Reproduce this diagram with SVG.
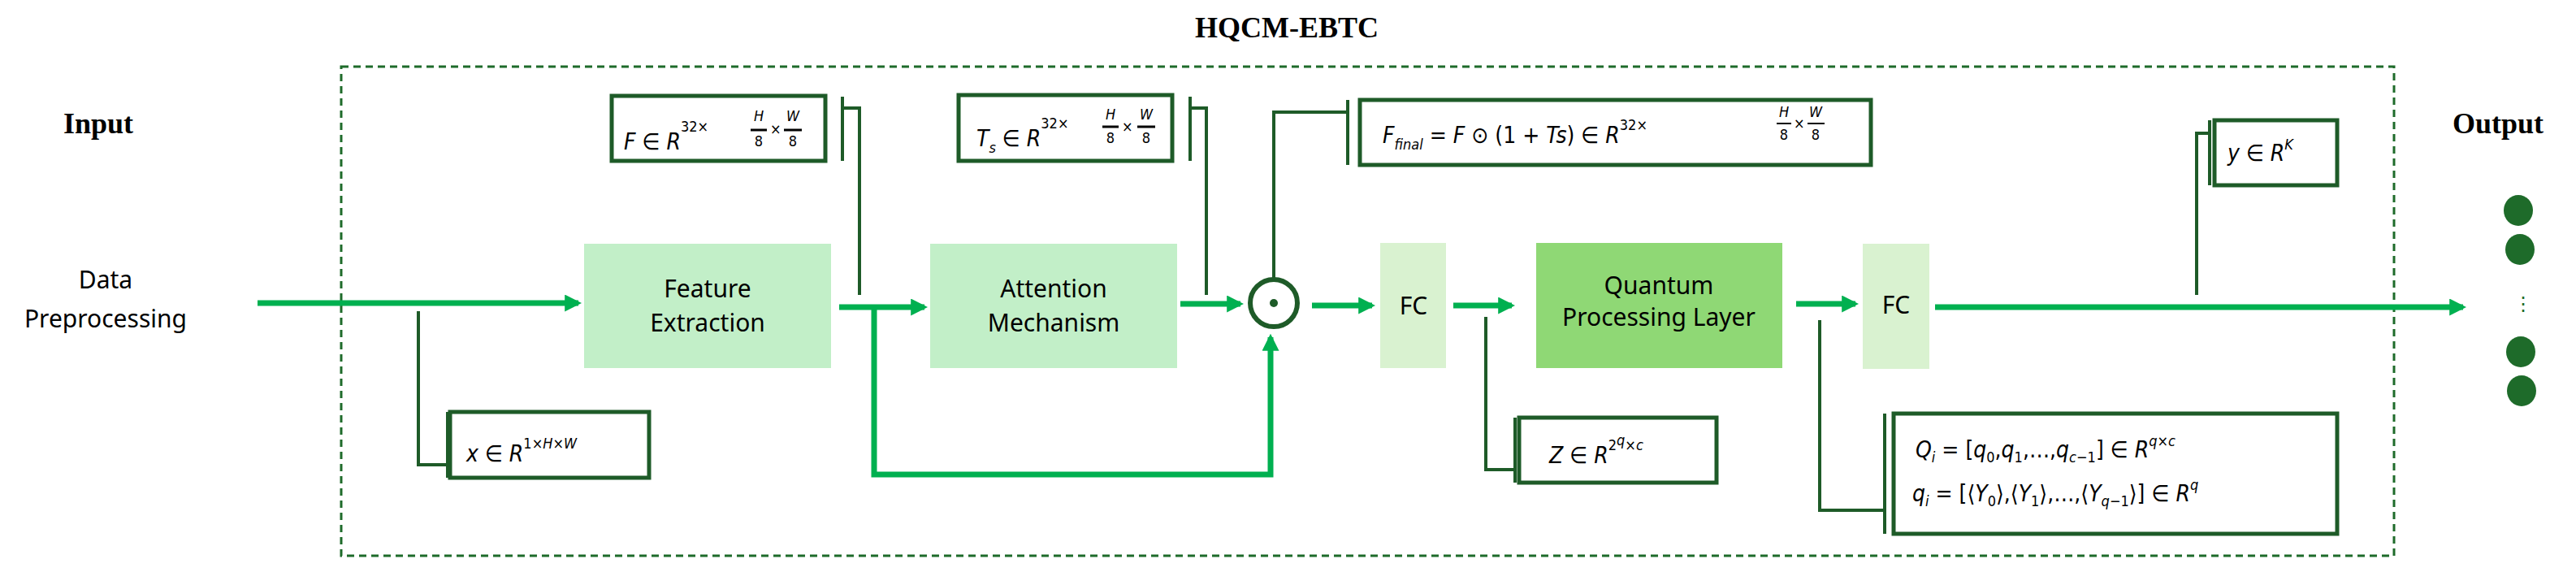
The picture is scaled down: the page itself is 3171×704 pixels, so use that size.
<svg xmlns="http://www.w3.org/2000/svg" width="3171" height="704" viewBox="0 0 3171 704">
<style>
.t{font-family:"Noto Sans","DejaVu Sans",sans-serif;font-size:30px;fill:#000;text-anchor:middle}
.s{font-family:"Liberation Serif",serif;font-weight:bold;font-size:36px;fill:#000;text-anchor:middle}
.m{font-family:"DejaVu Sans Condensed","DejaVu Sans",sans-serif;font-size:28px;fill:#000}
.i{font-style:italic}
.sup{font-size:18px}
.lb{fill:#fff;stroke:#1e5b28;stroke-width:5}
.c{fill:none;stroke:#1e5b28;stroke-width:4}
.a{fill:none;stroke:#00b050;stroke-width:7}
</style>
<defs>
<marker id="ah" viewBox="0 0 10 10" refX="8" refY="5" markerWidth="3" markerHeight="3" orient="auto" markerUnits="strokeWidth"><path d="M0,0L10,5L0,10z" fill="#00b050"/></marker>
</defs>
<text class="s" x="1584" y="46">HQCM-EBTC</text>
<rect x="420" y="82" width="2527" height="602" fill="none" stroke="#1e6b2a" stroke-width="3" stroke-dasharray="9,6"/>
<text class="s" x="121" y="164">Input</text>
<text class="s" x="3075" y="164">Output</text>
<g id="data"><text class="t" x="130" y="355">Data</text><text class="t" x="130" y="403">Preprocessing</text></g>
<g id="fe"><rect x="719" y="300" width="304" height="153" fill="#c2efc8"/><text class="t" x="871" y="366">Feature</text><text class="t" x="871" y="408">Extraction</text></g>
<g id="am"><rect x="1145" y="300" width="304" height="153" fill="#c2efc8"/><text class="t" x="1297" y="366">Attention</text><text class="t" x="1297" y="408">Mechanism</text></g>
<g id="odot"><circle cx="1568" cy="373" r="29" fill="#fff" stroke="#1e5b28" stroke-width="6"/><circle cx="1568" cy="373" r="5" fill="#1e5b28"/></g>
<g id="fc1"><rect x="1699" y="299" width="81" height="154" fill="#d9f2d0"/><text class="t" x="1740" y="387">FC</text></g>
<g id="qpl"><rect x="1891" y="299" width="303" height="154" fill="#8fd875"/><text class="t" x="2042" y="362">Quantum</text><text class="t" x="2042" y="401">Processing Layer</text></g>
<g id="fc2"><rect x="2293" y="300" width="82" height="154" fill="#d9f2d0"/><text class="t" x="2334" y="386">FC</text></g>
<g id="lblF"><rect class="lb" x="753" y="118" width="263" height="80"/>
<text class="m" x="768" y="184"><tspan class="i">F</tspan> ∈ <tspan class="i">R</tspan><tspan class="sup" dy="-22">32×</tspan></text>
<text class="m sup i" x="934" y="149" text-anchor="middle">H</text><line x1="924" y1="160" x2="944" y2="160" stroke="#000" stroke-width="3"/><text class="m sup" x="934" y="180" text-anchor="middle">8</text>
<text class="m sup" x="948" y="165">×</text>
<text class="m sup i" x="976" y="149" text-anchor="middle">W</text><line x1="965" y1="160" x2="987" y2="160" stroke="#000" stroke-width="3"/><text class="m sup" x="976" y="180" text-anchor="middle">8</text></g>
<g id="lblTs"><rect class="lb" x="1180" y="117" width="263" height="81"/>
<text class="m" x="1202" y="180"><tspan class="i">T</tspan><tspan class="sup i" dy="8">s</tspan><tspan dy="-8"> ∈ </tspan><tspan class="i">R</tspan><tspan class="sup" dy="-22">32×</tspan></text>
<text class="m sup i" x="1367" y="147" text-anchor="middle">H</text><line x1="1357" y1="156" x2="1377" y2="156" stroke="#000" stroke-width="3"/><text class="m sup" x="1367" y="176" text-anchor="middle">8</text>
<text class="m sup" x="1381" y="162">×</text>
<text class="m sup i" x="1411" y="147" text-anchor="middle">W</text><line x1="1400" y1="156" x2="1422" y2="156" stroke="#000" stroke-width="3"/><text class="m sup" x="1411" y="176" text-anchor="middle">8</text></g>
<g id="lblX"><rect class="lb" x="554" y="507" width="245" height="81"/>
<text class="m" x="574" y="568"><tspan class="i">x</tspan> ∈ <tspan class="i">R</tspan><tspan class="sup" dy="-16">1×</tspan><tspan class="sup i">H</tspan><tspan class="sup">×</tspan><tspan class="sup i">W</tspan></text></g>
<g id="lblFf"><rect class="lb" x="1674" y="123" width="629" height="80"/>
<text class="m" x="1702" y="176"><tspan class="i">F</tspan><tspan class="sup i" dy="8">final</tspan><tspan dy="-8"> = </tspan><tspan class="i">F</tspan> ⊙ (1 + <tspan class="i">Ts</tspan>) ∈ <tspan class="i">R</tspan><tspan class="sup" dy="-16">32×</tspan></text>
<text class="m sup i" x="2196" y="144" text-anchor="middle">H</text><line x1="2187" y1="152" x2="2205" y2="152" stroke="#000" stroke-width="2"/><text class="m sup" x="2196" y="172" text-anchor="middle">8</text>
<text class="m sup" x="2208" y="158">×</text>
<text class="m sup i" x="2235" y="144" text-anchor="middle">W</text><line x1="2225" y1="152" x2="2246" y2="152" stroke="#000" stroke-width="2"/><text class="m sup" x="2235" y="172" text-anchor="middle">8</text></g>
<g id="lblY"><rect class="lb" x="2726" y="148" width="151" height="80"/>
<text class="m" x="2742" y="198"><tspan class="i">y</tspan> ∈ <tspan class="i">R</tspan><tspan class="sup i" dy="-14">K</tspan></text></g>
<g id="lblZ"><rect class="lb" x="1870" y="514" width="243" height="80"/>
<text class="m" x="1907" y="570"><tspan class="i">Z</tspan> ∈ <tspan class="i">R</tspan><tspan class="sup" dy="-16">2</tspan><tspan class="sup i" font-size="13" dy="-6">q</tspan><tspan class="sup" dy="6">×</tspan><tspan class="sup i">c</tspan></text></g>
<g id="lblQ"><rect class="lb" x="2331" y="509" width="546" height="148"/>
<text class="m" x="2358" y="563"><tspan class="i">Q</tspan><tspan class="sup i" dy="6">i</tspan><tspan dy="-6">  =  [</tspan><tspan class="i">q</tspan><tspan class="sup" dy="6">0</tspan><tspan dy="-6">,</tspan><tspan class="i">q</tspan><tspan class="sup" dy="6">1</tspan><tspan dy="-6">,…,</tspan><tspan class="i">q</tspan><tspan class="sup" dy="6"><tspan class="i">c</tspan>−1</tspan><tspan dy="-6">] ∈ </tspan><tspan class="i">R</tspan><tspan class="sup i" dy="-14">q</tspan><tspan class="sup">×</tspan><tspan class="sup i">c</tspan></text>
<text class="m" x="2354" y="617"><tspan class="i">q</tspan><tspan class="sup i" dy="6">i</tspan><tspan dy="-6">  =  [⟨</tspan><tspan class="i">Y</tspan><tspan class="sup" dy="6">0</tspan><tspan dy="-6">⟩,⟨</tspan><tspan class="i">Y</tspan><tspan class="sup" dy="6">1</tspan><tspan dy="-6">⟩,…,⟨</tspan><tspan class="i">Y</tspan><tspan class="sup" dy="6"><tspan class="i">q</tspan>−1</tspan><tspan dy="-6">⟩] ∈ </tspan><tspan class="i">R</tspan><tspan class="sup i" dy="-14">q</tspan></text></g>
<g id="outdots" fill="#1e6b2a"><ellipse cx="3100" cy="259" rx="18" ry="19"/><ellipse cx="3102" cy="307" rx="18" ry="19"/><ellipse cx="3103" cy="433" rx="18" ry="19"/><ellipse cx="3104" cy="481" rx="18" ry="19"/><text x="3106" y="382" font-family="DejaVu Sans" font-size="24" fill="#1e6b2a" text-anchor="middle">⋮</text></g>
<g id="connectors">
<path class="a" d="M317,373H712" marker-end="url(#ah)"/>
<path class="a" d="M1033,378H1138" marker-end="url(#ah)"/>
<path class="a" d="M1453,374H1527" marker-end="url(#ah)"/>
<path class="a" d="M1076,378V584H1564V415" marker-end="url(#ah)"/>
<path class="a" d="M1615,376H1689" marker-end="url(#ah)"/>
<path class="a" d="M1789,376H1861" marker-end="url(#ah)"/>
<path class="a" d="M2211,374H2284" marker-end="url(#ah)"/>
<path class="a" d="M2382,378H3032" marker-end="url(#ah)"/>
<path class="c" d="M1037,119V198M1037,133H1058V363"/>
<path class="c" d="M1465,119V198M1465,133H1485V363"/>
<path class="c" d="M551,507V588M515,383V572H551"/>
<path class="c" d="M1659,123V203M1568,342V138H1659"/>
<path class="c" d="M2720,148V228M2704,363V164H2720"/>
<path class="c" d="M1865,514V594M1829,390V578H1865"/>
<path class="c" d="M2320,509V657M2240,394V628H2320"/>
</g>
</svg>
